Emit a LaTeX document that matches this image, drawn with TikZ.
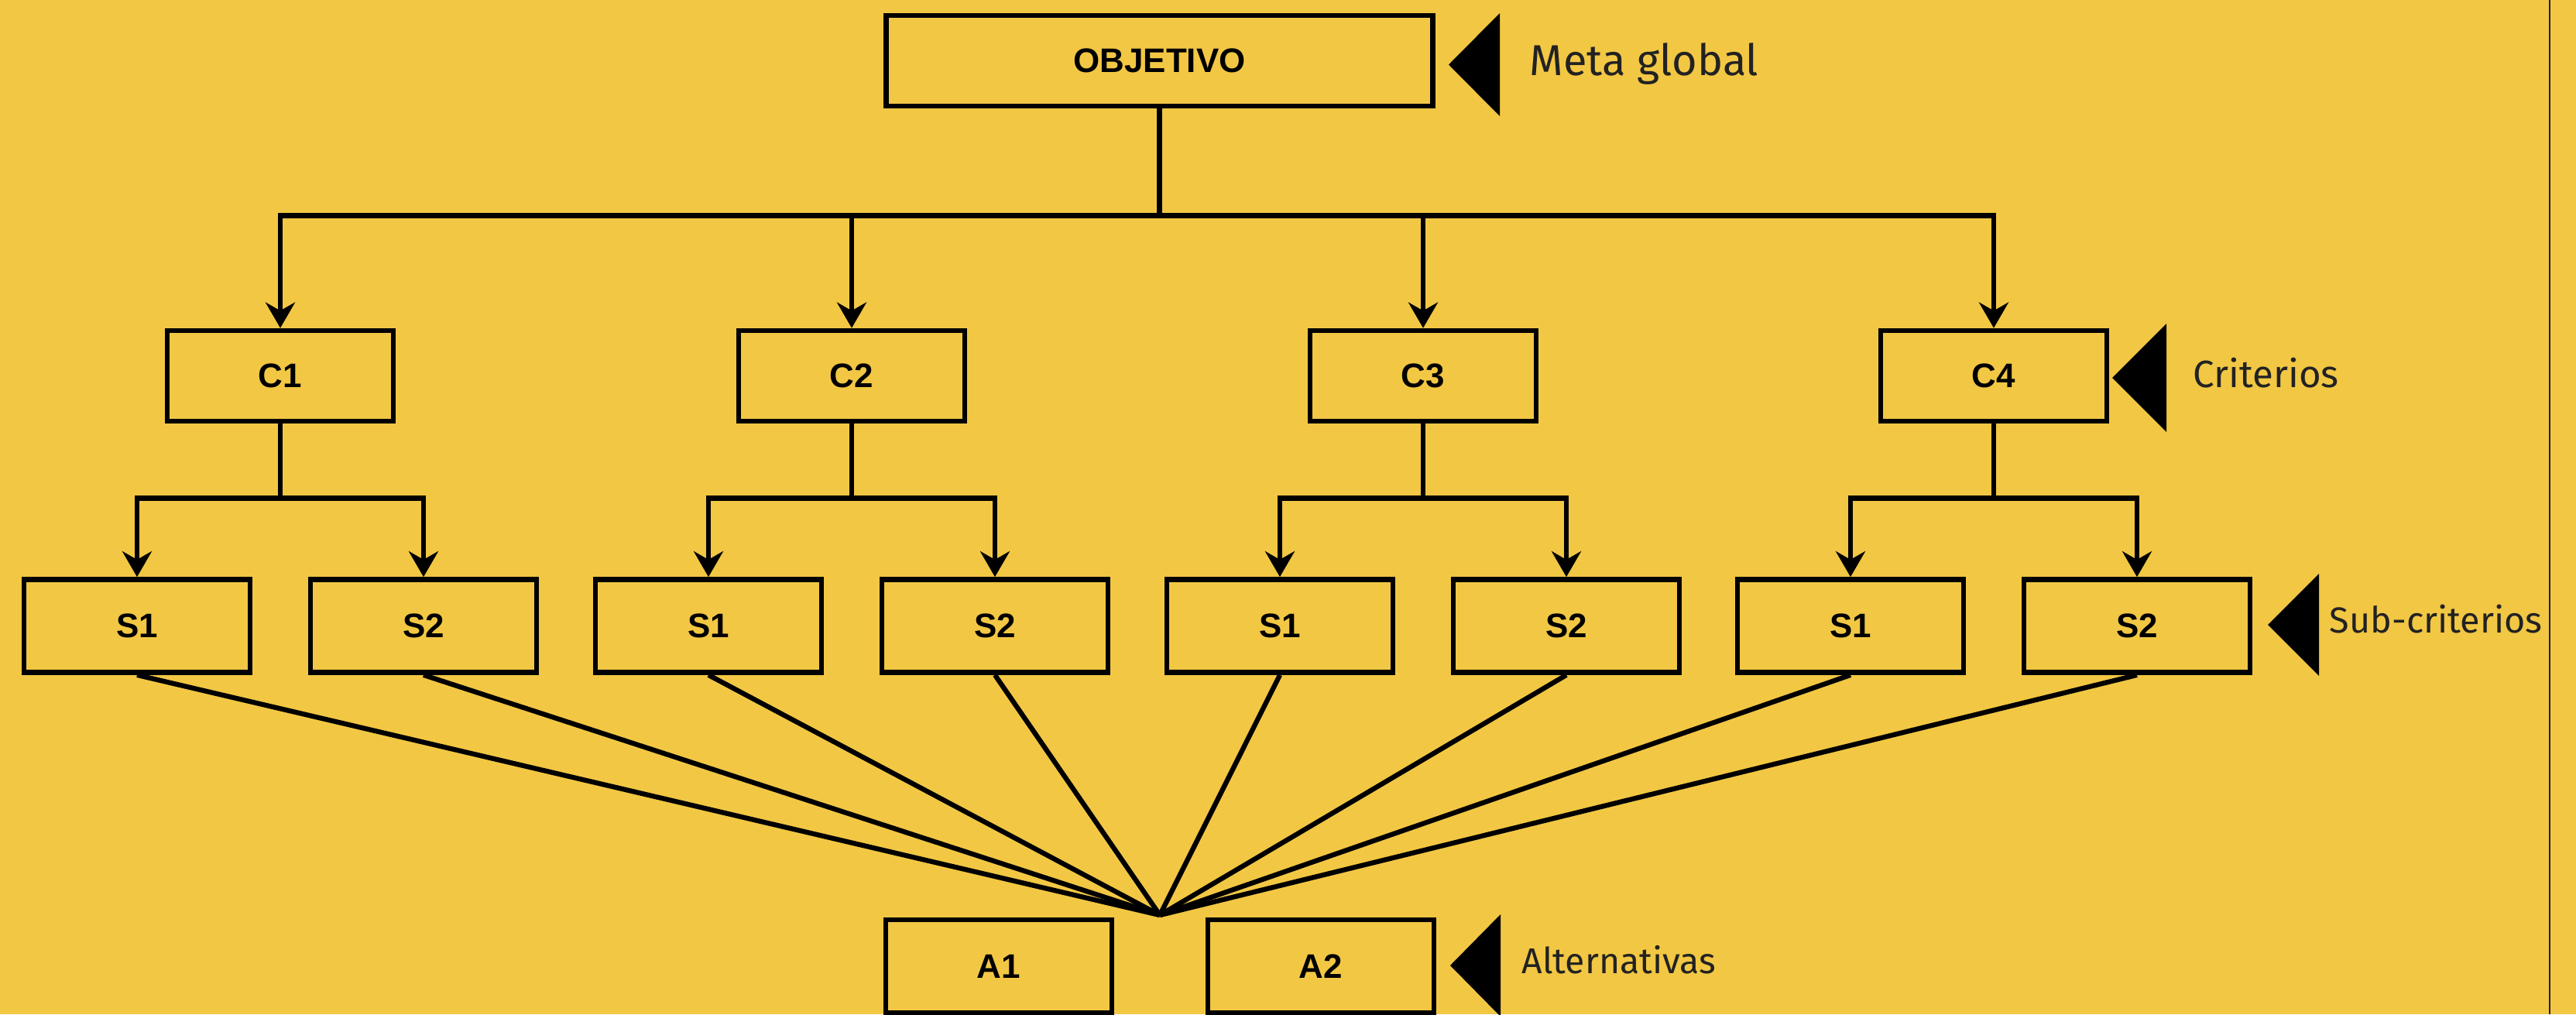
\documentclass[tikz,border=0pt]{standalone}
\usepackage{fontspec}
\setmainfont{Liberation Sans}
\newfontfamily\labelfont{Fira Sans}
\usepackage{tikz}
\usetikzlibrary{
  positioning,
  calc,
  arrows.meta
}
\definecolor{bgyellow}{HTML}{F2C744}
\definecolor{labelgray}{HTML}{222222}
\tikzstyle{box}=[draw, line width=1.9pt, minimum width=2.92cm, minimum height=1.20cm, inner sep=0pt, font=\fontsize{12.5}{15}\selectfont\bfseries]
\tikzstyle{link}=[line width=1.8pt]
\tikzstyle{arrow}=[link, -{Stealth[length=9.4pt,width=10.8pt]}]
\tikzstyle{level}=[labelgray, anchor=base west, inner sep=0pt]

\begin{document}
\begin{tikzpicture}
    \def\W{33.27}    % picture width
    \def\H{13.10}    % picture height
    \def\yc{-4.855}  % row of criteria
    \def\ys{-8.085}  % row of sub-criteria
    \def\ya{-12.48}  % row of alternatives
    \def\pointer#1#2#3{\fill (#1) -- ++(#2,#3) -- ++(0,-2*#3) -- cycle}

    % BACKGROUND
    \useasboundingbox (0,0) rectangle (\W,-\H);
    \fill[bgyellow] (0,0) rectangle (\W,-\H);
    \draw[labelgray, line width=0.6pt] (32.93,0) -- (32.93,-\H);

    % NODES
    \node[box, minimum width=7.06cm, minimum height=1.17cm] (obj) at (14.975,-0.785) {OBJETIVO};
    \foreach \i/\x in {1/3.62, 2/11.00, 3/18.38, 4/25.75}{
        \node[box, minimum height=1.17cm] (c\i) at (\x,\yc) {C\i};
        \node[box] (s\i-1) at (\x-1.85,\ys) {S1};
        \node[box] (s\i-2) at (\x+1.85,\ys) {S2};
    }
    \node[box] (a1) at (12.90,\ya) {A1};
    \node[box] (a2) at (17.06,\ya) {A2};

    % CONNECTORS
    \coordinate (bus) at ($(obj.south)+(0,-1.38)$);
    \draw[link] (obj.south) -- (bus);
    \foreach \i in {1,...,4}{
        \draw[arrow] (bus) -| (c\i.north);
        \draw[link] (c\i.south) -- ++(0,-0.96) coordinate (cbus\i);
        \draw[arrow] (cbus\i) -| (s\i-1.north);
        \draw[arrow] (cbus\i) -| (s\i-2.north);
    }

    % FAN TO THE ALTERNATIVES
    \coordinate (hub) at (14.98,-11.82);
    \foreach \i in {1,...,4}{
        \draw[link] (s\i-1.south) -- (hub);
        \draw[link] (s\i-2.south) -- (hub);
    }

    % LEVELS
    \pointer{18.71,-0.835}{0.66}{0.665};
    \node[level, font=\labelfont\fontsize{15.9}{19}\selectfont] (meta) at (19.75,-0.97) {Meta global};
    \pointer{27.28,-4.88}{0.70}{0.70};
    \node[level, font=\labelfont\fontsize{14}{17}\selectfont] (crit) at (28.32,-5.00) {Criterios};
    \pointer{29.29,-8.07}{0.66}{0.66};
    \node[level, font=\labelfont\fontsize{13.3}{16}\selectfont] (subcrit) at (30.08,-8.17) {Sub-criterios};
    \pointer{18.73,-12.47}{0.65}{0.66};
    \node[level, font=\labelfont\fontsize{13.2}{16}\selectfont] (alt) at (19.65,-12.57) {Alternativas};
\end{tikzpicture}
\end{document}
